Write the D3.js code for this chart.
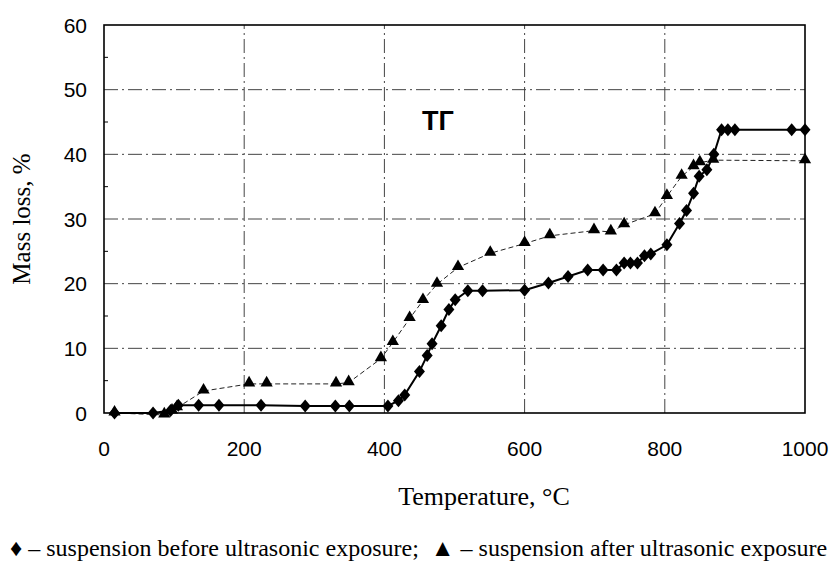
<!DOCTYPE html>
<html>
<head>
<meta charset="utf-8">
<script src="https://cdn.jsdelivr.net/npm/d3@7"></script>
<style>
  body { margin: 0; background: #fff; }
  svg { display: block; }
</style>
</head>
<body>
<svg id="chart" width="836" height="563"></svg>
<script>
// suspension before ultrasonic exposure (diamonds)
const beforeTemp = [15, 70, 95, 106, 135, 164, 224, 287, 330, 350, 405, 420, 429, 450, 461, 468, 481, 492, 501, 519, 540, 600, 634, 662, 690, 712, 731, 742, 751, 761, 771, 780, 803, 821, 831, 841, 849, 860, 870, 881, 890, 900, 981, 1000];
const beforeLoss = [0, 0, 0.4, 1.2, 1.2, 1.2, 1.2, 1.1, 1.1, 1.1, 1.1, 1.9, 2.8, 6.4, 8.9, 10.7, 13.5, 16.0, 17.5, 18.9, 18.9, 19.0, 20.1, 21.1, 22.1, 22.1, 22.1, 23.2, 23.2, 23.2, 24.3, 24.6, 26.0, 29.3, 31.3, 34.0, 36.6, 37.6, 40.0, 43.8, 43.8, 43.8, 43.8, 43.8];

// suspension after ultrasonic exposure (triangles)
const afterTemp = [15, 86, 97, 104, 142, 207, 232, 331, 349, 395, 412, 436, 455, 475, 505, 551, 600, 636, 699, 723, 742, 786, 803, 824, 841, 850, 869, 1000];
const afterLoss = [0, -0.3, 0.3, 0.8, 3.4, 4.5, 4.5, 4.5, 4.7, 8.4, 10.9, 14.6, 17.4, 19.9, 22.5, 24.7, 26.2, 27.4, 28.2, 28.0, 29.1, 30.8, 33.5, 36.6, 38.1, 38.7, 39.1, 39.0];

const xTicks = [0, 200, 400, 600, 800, 1000];
const yTicks = [0, 10, 20, 30, 40, 50, 60];
const yMinorTicks = [5, 15, 25, 35, 45, 55];

const svg = d3.select('#chart');

const x = d3.scaleLinear().domain([0, 1000]).range([104, 805]);
const y = d3.scaleLinear().domain([0, 60]).range([413, 25]);

const sans = "'Liberation Sans', Arial, sans-serif";
const serif = "'Liberation Serif', 'Times New Roman', serif";

// grid
const grid = svg.append('g')
  .attr('stroke', '#444')
  .attr('stroke-width', 1)
  .attr('stroke-dasharray', '14,4,2,4');

grid.selectAll('line.h')
  .data(yTicks.slice(1, -1))
  .enter()
  .append('line')
  .attr('x1', x(0)).attr('x2', x(1000))
  .attr('y1', d => y(d)).attr('y2', d => y(d));

grid.selectAll('line.v')
  .data(xTicks.slice(1, -1))
  .enter()
  .append('line')
  .attr('x1', d => x(d)).attr('x2', d => x(d))
  .attr('y1', y(0)).attr('y2', y(60));

// frame
svg.append('rect')
  .attr('x', x(0)).attr('y', y(60))
  .attr('width', x(1000) - x(0)).attr('height', y(0) - y(60))
  .attr('fill', 'none')
  .attr('stroke', '#000')
  .attr('stroke-width', 1.6);

svg.append('g')
  .selectAll('line')
  .data(yMinorTicks)
  .enter()
  .append('line')
  .attr('x1', x(0)).attr('x2', x(0) + 4)
  .attr('y1', d => y(d)).attr('y2', d => y(d))
  .attr('stroke', '#000');

// tick labels
svg.append('g')
  .selectAll('text')
  .data(yTicks)
  .enter()
  .append('text')
  .attr('x', 87)
  .attr('y', d => y(d))
  .attr('dy', '0.36em')
  .attr('text-anchor', 'end')
  .style('font-family', sans)
  .style('font-size', '21px')
  .text(d => d);

svg.append('g')
  .selectAll('text')
  .data(xTicks)
  .enter()
  .append('text')
  .attr('x', d => x(d))
  .attr('y', 456)
  .attr('text-anchor', 'middle')
  .style('font-family', sans)
  .style('font-size', '21px')
  .text(d => d);

// series
const pts = (xs, ys) => xs.map((t, i) => [t, ys[i]]);
const before = pts(beforeTemp, beforeLoss);
const after = pts(afterTemp, afterLoss);

const line = d3.line().x(d => x(d[0])).y(d => y(d[1]));

svg.append('path')
  .datum(after)
  .attr('d', line)
  .attr('fill', 'none')
  .attr('stroke', '#222')
  .attr('stroke-width', 1)
  .attr('stroke-dasharray', '5,3');

svg.append('path')
  .datum(before)
  .attr('d', line)
  .attr('fill', 'none')
  .attr('stroke', '#000')
  .attr('stroke-width', 2);

const diamond = 'M0,-6.5L5.5,0L0,6.5L-5.5,0Z';
svg.append('g')
  .selectAll('path')
  .data(before)
  .enter()
  .append('path')
  .attr('transform', d => `translate(${x(d[0])},${y(d[1])})`)
  .attr('d', diamond)
  .attr('fill', '#000');

const tri = d3.symbol().type(d3.symbolTriangle).size(65);
svg.append('g')
  .selectAll('path')
  .data(after)
  .enter()
  .append('path')
  .attr('transform', d => `translate(${x(d[0])},${y(d[1]) - 1})`)
  .attr('d', tri)
  .attr('fill', '#000');

// labels
svg.append('text')
  .attr('x', 438).attr('y', 130)
  .attr('text-anchor', 'middle')
  .style('font-family', sans)
  .style('font-weight', 'bold')
  .style('font-size', '27px')
  .text('ТГ');

svg.append('text')
  .attr('transform', 'translate(30,219) rotate(-90)')
  .attr('text-anchor', 'middle')
  .style('font-family', serif)
  .style('font-size', '25px')
  .text('Mass loss, %');

svg.append('text')
  .attr('x', 484).attr('y', 505)
  .attr('text-anchor', 'middle')
  .style('font-family', serif)
  .style('font-size', '26px')
  .text('Temperature, °C');

svg.append('text')
  .attr('x', 10).attr('y', 556)
  .style('font-family', serif)
  .style('font-size', '24px')
  .attr('xml:space', 'preserve')
  .text('♦ – suspension before ultrasonic exposure;  ▲ – suspension after ultrasonic exposure');
</script>
</body>
</html>
